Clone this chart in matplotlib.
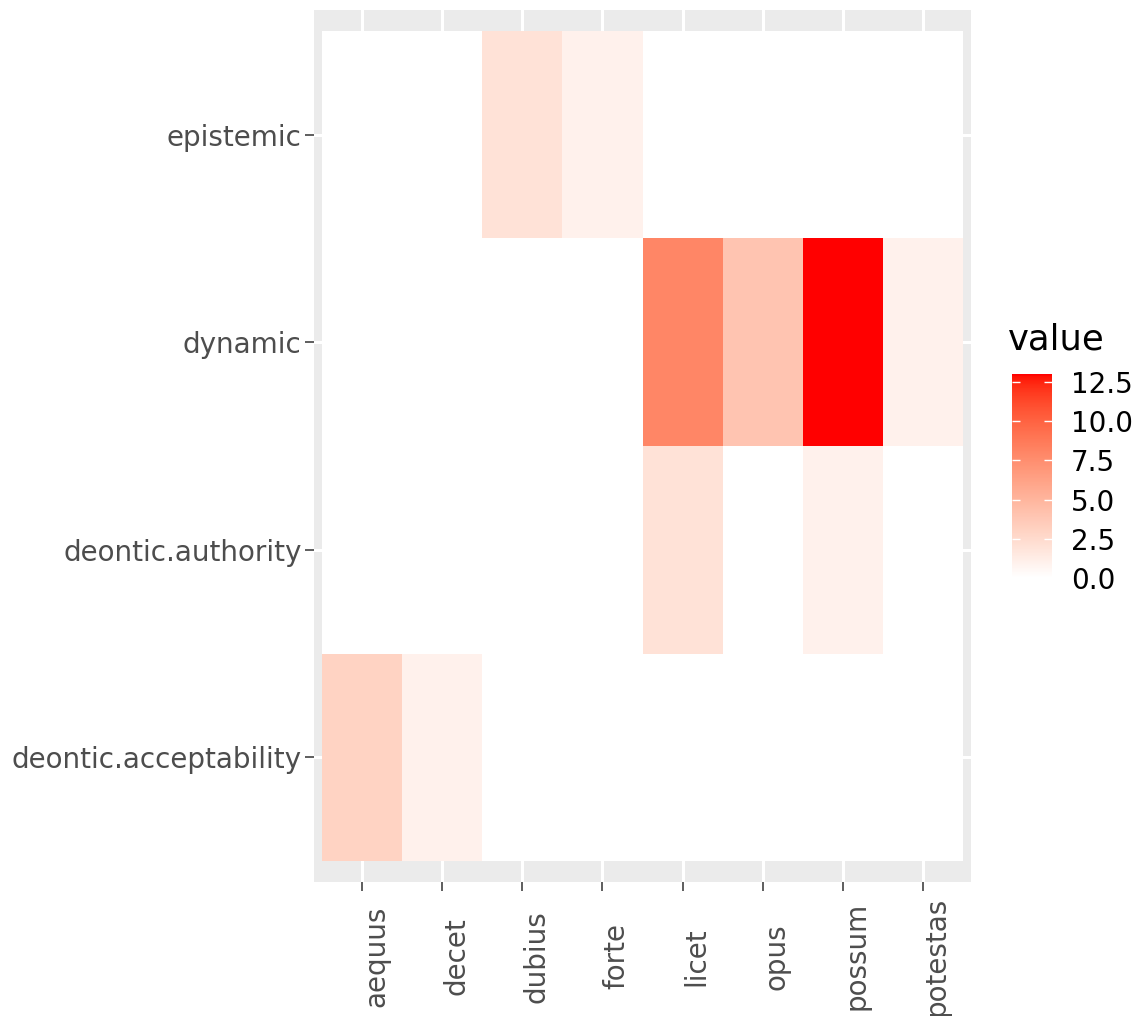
"""Modality heatmap: lemma x modal category, white-to-red fill."""
import matplotlib
matplotlib.use('Agg')
import matplotlib.pyplot as plt
import numpy as np
from matplotlib.colors import ListedColormap

lemmas = ['aequus', 'decet', 'dubius', 'forte', 'licet', 'opus', 'possum', 'potestas']
categories = ['deontic.acceptability', 'deontic.authority', 'dynamic', 'epistemic']

# one row per category (bottom to top)
acceptability = [3, 1, 0, 0, 0, 0, 0, 0]
authority     = [0, 0, 0, 0, 2, 0, 1, 0]
dynamic       = [0, 0, 0, 0, 8, 4, 13, 1]
epistemic     = [0, 0, 2, 1, 0, 0, 0, 0]

legend_ticks = [0.0, 2.5, 5.0, 7.5, 10.0, 12.5]

values = np.array([acceptability, authority, dynamic, epistemic], dtype=float)


def lab_gradient(n=256):
    # white -> red interpolated in CIE Lab, like scale_fill_gradient
    t = np.linspace(0, 1, n)
    L = 100 + (53.24 - 100) * t
    a = 80.09 * t
    b = 67.20 * t
    fy = (L + 16) / 116
    fx = fy + a / 500
    fz = fy - b / 200
    d = 6 / 29

    def finv(f):
        return np.where(f > d, f ** 3, 3 * d * d * (f - 4 / 29))

    xyz = np.stack([0.95047 * finv(fx), finv(fy), 1.08883 * finv(fz)], axis=1)
    m = np.array([[3.2406, -1.5372, -0.4986],
                  [-0.9689, 1.8758, 0.0415],
                  [0.0557, -0.2040, 1.0570]])
    lin = np.clip(xyz @ m.T, 0, 1)
    rgb = np.where(lin <= 0.0031308, 12.92 * lin, 1.055 * lin ** (1 / 2.4) - 0.055)
    return ListedColormap(np.clip(rgb, 0, 1))


cmap = lab_gradient()
vmin, vmax = 0, values.max()

W, H = 1141, 1016
fig = plt.figure(figsize=(W / 100, H / 100), dpi=100)
ax = fig.add_axes([314 / W, 1 - 882 / H, (971 - 314) / W, (882 - 10) / H])

ax.set_facecolor('#EBEBEB')
ax.set_axisbelow(True)
ax.grid(True, color='white', lw=2.2)

mesh = ax.pcolormesh(np.arange(len(lemmas) + 1) - 0.5,
                     np.arange(len(categories) + 1) - 0.5,
                     values, cmap=cmap, vmin=vmin, vmax=vmax)

ax.set_xlim(-0.6, len(lemmas) - 0.4)
ax.set_ylim(-0.6, len(categories) - 0.4)
for s in ax.spines.values():
    s.set_visible(False)

ax.set_xticks(range(len(lemmas)))
ax.set_xticklabels(lemmas, rotation=90, ha='left', va='center',
                   rotation_mode='default')
ax.set_yticks(range(len(categories)))
ax.set_yticklabels(categories)
ax.tick_params(axis='both', colors='#333333', length=6.5, width=1.1,
               labelsize=20, labelcolor='#4D4D4D')
ax.tick_params(axis='y', pad=2.5)
ax.tick_params(axis='x', pad=47)

# colourbar legend
cax = fig.add_axes([1012 / W, 1 - 578 / H, 40 / W, 204 / H])
cb = fig.colorbar(mesh, cax=cax)
cb.outline.set_visible(False)
cb.set_ticks(legend_ticks)
cb.set_ticklabels([f'{v:.1f}' for v in legend_ticks])
cax.tick_params(axis='y', direction='in', left=True, right=True,
                color='white', length=6, width=1.0, labelsize=20,
                labelcolor='black', pad=13.5)
fig.text(1008 / W, 1 - 350 / H, 'value', fontsize=25.5, color='black',
         ha='left', va='baseline')

fig.savefig('out.png', dpi=100)
